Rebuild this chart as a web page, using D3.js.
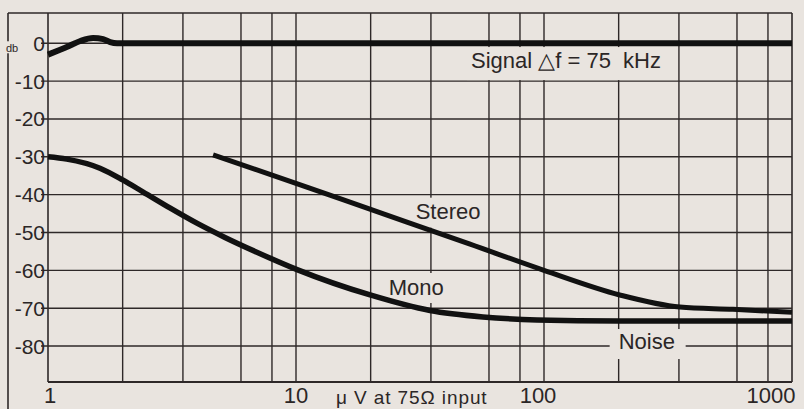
<!DOCTYPE html>
<html>
<head>
<meta charset="utf-8">
<script src="https://cdn.jsdelivr.net/npm/d3@7"></script>
<style>
  html, body { margin: 0; padding: 0; background: #e9e4df; }
  svg { display: block; }
  text { font-family: "Liberation Sans", Arial, sans-serif; fill: #2b2626; }
</style>
</head>
<body>
<svg id="chart" width="804" height="409"></svg>
<script>
// Input level in microvolts (log axis) and relative output in dB
const xTickValues = [1, 10, 100, 1000];
const xTickLabels = ["1", "10", "100", "1000"];
const xGridValues = [2, 3.5, 6, 8, 10, 20, 35, 60, 80, 100, 200, 350, 600, 800];
const yTickValues = [0, -10, -20, -30, -40, -50, -60, -70, -80];
const yTickLabels = ["0", "-10", "-20", "-30", "-40", "-50", "-60", "-70", "-80"];

// Signal at 75 kHz deviation
const signalUV = [1, 1.1, 1.19, 1.35, 1.52, 1.67, 1.78, 1.9, 1000];
const signalDb = [-3, -1.9, -1.0, 0.6, 1.4, 1.1, 0.3, 0, 0];

// Mono noise
const monoUV = [1, 1.19, 1.62, 2.0, 2.42, 3.1, 4.0, 5.17, 6.84, 10.1, 19.9, 34.7, 56.7, 93.7, 200, 1000];
const monoDb = [-30, -30.6, -33.0, -36.1, -39.3, -43.5, -47.6, -51.3, -55.0, -59.8, -66.5, -70.6, -72.3, -73.1, -73.4, -73.4];

// Stereo noise
const stereoUV = [4.63, 10, 20, 50, 100, 202, 353, 578, 1000];
const stereoDb = [-29.5, -37.0, -43.9, -53.0, -60.0, -66.5, -69.7, -70.3, -71.1];

const svg = d3.select("#chart");
const W = 804, H = 409;
const paper = "#e9e4df";
const ink = "#2e2828";

svg.append("rect").attr("width", W).attr("height", H).attr("fill", paper);

const x = d3.scaleLog().domain([1, 1000]).range([48, 792]);
const y = d3.scaleLinear().domain([-89.5, 8]).range([382, 13]);

const zip = (xs, ys) => xs.map((v, i) => [v, ys[i]]);

// Outer frame: top rule and left rule
svg.append("line").attr("x1", 8).attr("x2", x(1000)).attr("y1", y(8)).attr("y2", y(8))
  .attr("stroke", ink).attr("stroke-width", 1.6);
svg.append("line").attr("x1", 8).attr("x2", 8).attr("y1", y(8)).attr("y2", H)
  .attr("stroke", ink).attr("stroke-width", 1.6);

// Grid
const grid = svg.append("g").attr("stroke", ink).attr("stroke-width", 1.4);
grid.selectAll("line.v").data(xGridValues).join("line").attr("class", "v")
  .attr("x1", d => x(d)).attr("x2", d => x(d)).attr("y1", y(8)).attr("y2", y(-89.5));
grid.selectAll("line.h").data(yTickValues).join("line").attr("class", "h")
  .attr("x1", x(1) - 7).attr("x2", x(1000)).attr("y1", d => y(d)).attr("y2", d => y(d));
// Plot border
grid.append("line").attr("x1", x(1)).attr("x2", x(1)).attr("y1", y(8)).attr("y2", y(-89.5)).attr("stroke-width", 1.6);
grid.append("line").attr("x1", x(1000)).attr("x2", x(1000)).attr("y1", y(8)).attr("y2", y(-89.5)).attr("stroke-width", 1.6);
grid.append("line").attr("x1", x(1)).attr("x2", x(1000)).attr("y1", y(-89.5)).attr("y2", y(-89.5)).attr("stroke-width", 1.8);

// Label plates that interrupt the grid
const plate = (x0, y0, w, h) => svg.append("rect")
  .attr("x", x0).attr("y", y0).attr("width", w).attr("height", h).attr("fill", paper);

// y-axis labels
svg.append("g").selectAll("text").data(yTickValues).join("text")
  .attr("x", x(1) - 3).attr("y", d => y(d) + 7.5)
  .attr("text-anchor", "end").attr("font-size", 21)
  .text((d, i) => yTickLabels[i]);
plate(5, y(0) - 2, 14, 12);
svg.append("text").attr("x", 6).attr("y", y(0) + 9).attr("font-size", 11).text("db");

// x-axis labels
const xLabelShift = [2, 0, -6, -21];
svg.append("g").selectAll("text").data(xTickValues).join("text")
  .attr("x", (d, i) => x(d) + xLabelShift[i]).attr("y", 403)
  .attr("text-anchor", "middle").attr("font-size", 22)
  .text((d, i) => xTickLabels[i]);
svg.append("text").attr("x", x(14.5)).attr("y", 404).attr("font-size", 19)
  .attr("letter-spacing", 0.9).text("μ V at 75Ω input");

// Curve annotations
plate(x(60) - 22, y(-1), 210, 33);
svg.append("text").attr("x", x(60) - 18).attr("y", y(-6.5)).attr("font-size", 22)
  .attr("style", "white-space: pre").text("Signal \u25B3f = 75  kHz");

plate(x(29), y(-40.8), 74, 30);
svg.append("text").attr("x", x(29) + 5).attr("y", y(-46.4)).attr("font-size", 22).text("Stereo");

plate(x(23) - 1, y(-60.7), 66, 30);
svg.append("text").attr("x", x(23) + 3).attr("y", y(-66.5)).attr("font-size", 22).text("Mono");

plate(x(200) - 9, y(-75.5), 76, 30);
svg.append("text").attr("x", x(200)).attr("y", y(-80.8)).attr("font-size", 22).text("Noise");

// Curves
const line = d3.line().x(d => x(d[0])).y(d => y(d[1])).curve(d3.curveMonotoneX);
const curves = [
  { pts: zip(signalUV, signalDb), w: 6 },
  { pts: zip(monoUV, monoDb), w: 5.5 },
  { pts: zip(stereoUV, stereoDb), w: 5 }
];
svg.append("g").selectAll("path").data(curves).join("path")
  .attr("d", d => line(d.pts))
  .attr("fill", "none").attr("stroke", "#111")
  .attr("stroke-width", d => d.w).attr("stroke-linecap", "butt");
</script>
</body>
</html>
